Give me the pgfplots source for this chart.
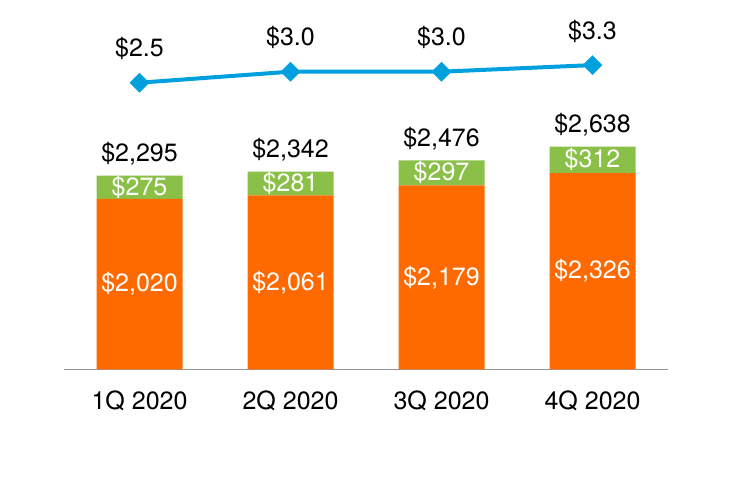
\documentclass[border=0pt]{standalone}
\usepackage{fontspec}
\setmainfont{TeX Gyre Heros}
\usepackage{pgfplots}
\pgfplotsset{compat=1.18}

\definecolor{barorange}{RGB}{255,106,0}
\definecolor{bargreen}{RGB}{139,192,72}
\definecolor{lineblue}{RGB}{0,160,222}
\definecolor{axisgray}{RGB}{150,150,150}

\newcommand{\lbl}{\fontsize{25bp}{30bp}\selectfont}

\pgfplotsset{
  base/.style={
    scale only axis, width=604bp,
    xmin=-0.5, xmax=3.5, clip=false,
    /pgf/number format/assume math mode=true,
  },
}

\begin{document}
\begin{tikzpicture}
\useasboundingbox (0,0) rectangle (732bp,480bp);

% stacked bars
\begin{axis}[base,
  at={(64bp,110.7bp)}, anchor=south west,
  height=300bp, ymin=0, ymax=3556,
  ybar stacked, bar width=86bp,
  axis y line=none, axis x line*=bottom,
  axis line style={axisgray, line width=1.5bp, -},
  xtick={0,1,2,3},
  xticklabels={1Q 2020,2Q 2020,3Q 2020,4Q 2020},
  major tick length=0,
  xticklabel style={font=\lbl, anchor=center, yshift=-32bp},
  nodes near coords={\$\pgfmathprintnumber{\pgfplotspointmeta}},
  point meta=rawy,
  every node near coord/.append style={font=\lbl, text=white, anchor=center},
]
\addplot[fill=barorange, draw=none] coordinates {(0,2020) (1,2061) (2,2179) (3,2326)};
\addplot[fill=bargreen, draw=none] coordinates {(0,275) (1,281) (2,297) (3,312)};
\end{axis}

% totals
\begin{axis}[base,
  at={(64bp,110.7bp)}, anchor=south west,
  height=300bp, ymin=0, ymax=3556, hide axis,
  nodes near coords={\$\pgfmathprintnumber{\pgfplotspointmeta}},
  every node near coord/.append style={font=\lbl, text=black,
    anchor=center, yshift=22bp},
]
\addplot[draw=none, mark=none] coordinates {(0,2295) (1,2342) (2,2476) (3,2638)};
\end{axis}

% line
\begin{axis}[base,
  at={(64bp,342.3bp)}, anchor=south west,
  height=100bp, ymin=0, ymax=4.5454, hide axis,
  nodes near coords={\$\pgfmathprintnumber[fixed,fixed zerofill,precision=1]{\pgfplotspointmeta}},
  every node near coord/.append style={font=\lbl, text=black,
    anchor=center, yshift=34bp},
]
\addplot[lineblue, line width=4bp, mark=square*, mark size=6.7bp,
  mark options={rotate=45, line width=0.5bp, fill=lineblue}]
  coordinates {(0,2.5) (1,3.0) (2,3.0) (3,3.3)};
\end{axis}
\end{tikzpicture}
\end{document}
